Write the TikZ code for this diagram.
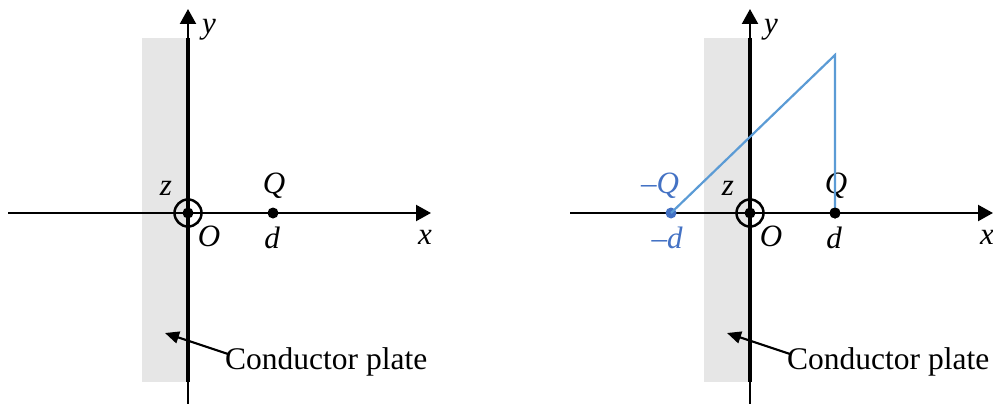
\documentclass[tikz,border=0pt]{standalone}
\usepackage{fontspec}
\setmainfont{Liberation Serif}
\usetikzlibrary{arrows.meta}
\definecolor{plategray}{RGB}{230,230,230}
\definecolor{imgline}{RGB}{91,155,213}
\definecolor{imgtext}{RGB}{68,114,196}
\tikzset{
  axis/.style={line width=2.2pt,-{Triangle[length=15pt,width=16pt]}},
  plate/.style={line width=4.5pt},
  lbl/.style={font=\fontsize{31}{31}\selectfont\itshape,inner sep=0pt},
  txt/.style={font=\fontsize{31.5}{31.5}\selectfont,inner sep=0pt,anchor=west},
  dot/.style={circle,fill=black,inner sep=0pt,minimum size=11pt},
  ptr/.style={line width=2.2pt,-{Triangle[length=14pt,width=12pt]}},
  img/.style={line width=2.2pt,draw=imgline},
}
\begin{document}
\begin{tikzpicture}[x=1pt,y=-1pt]
\useasboundingbox (0,0) rectangle (993,404);
\foreach \o/\n in {0/L,562/R}{
  \begin{scope}[xshift=\o pt]
    \fill[plategray] (142,38) rectangle (188,382);
    \coordinate (xs\n) at (8,213);
    \coordinate (xe\n) at (431,213);
    \coordinate (ys\n) at (188,404);
    \coordinate (ye\n) at (188,9);
    \draw[axis] (xs\n) -- (xe\n);
    \draw[axis] (ys\n) -- (ye\n);
    \draw[plate] (188,38) -- (188,382);
    \node[circle,draw,line width=2.5pt,minimum size=27pt,inner sep=0pt] (o\n) at (188,213) {};
    \node[dot] (c\n) at (188,213) {};
    \node[dot] (q\n) at (273,213) {};
    \node[lbl] (ylab\n) at (209,30) {y};
    \node[lbl] (xlab\n) at (425,237) {x};
    \node[lbl] (qlab\n) at (274,186) {Q};
    \node[lbl] (dlab\n) at (272,238) {d};
    \node[lbl] (zlab\n) at (166,188) {z};
    \node[lbl] (olab\n) at (209,236) {O};
    \node[txt] (cp\n) at (225,362) {Conductor plate};
    \coordinate (tip\n) at (165,333);
    \draw[ptr] (cp\n.west) ++(3,-8) -- (tip\n);
  \end{scope}
}
\coordinate (top) at (835,55);
\node[circle,fill=imgtext,inner sep=0pt,minimum size=11pt] (mq) at (671,213) {};
\draw[img] (mq.center) -- (top) -- (qR.center);
\node[dot] at (qR) {};
\node[lbl,text=imgtext] (mqlab) at (660,186) {\textendash Q};
\node[lbl,text=imgtext] (mdlab) at (667,238) {\textendash d};
\end{tikzpicture}
\end{document}
